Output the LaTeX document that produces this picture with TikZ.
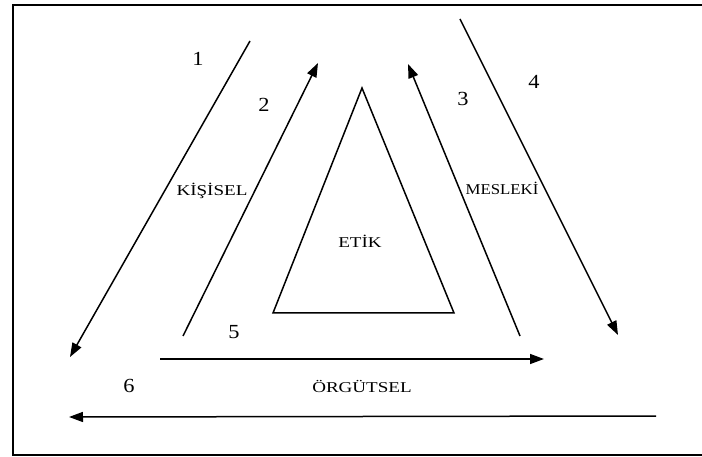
\documentclass[tikz,border=0pt]{standalone}
\usepackage{fontspec}
\usepackage{graphicx}
\setmainfont{Liberation Serif}
\usetikzlibrary{arrows.meta}
\tikzset{
  conn/.style={line width=1.5pt, -{Triangle[length=14pt,width=10pt]}},
  plain/.style={line width=1.5pt},
  num/.style={font=\fontsize{20}{20}\selectfont, inner sep=0pt},
  lbl/.style={font=\fontsize{15}{16}\selectfont, inner sep=1.5pt, anchor=base},
  cut/.style={lbl, fill=white},
}
\newcommand{\wide}[1]{\scalebox{1.27}[1]{#1}}
\begin{document}
\begin{tikzpicture}[x=1pt,y=-1pt]
\useasboundingbox (0,0) rectangle (702,457);
% frame (right edge cut off)
\draw[line width=1.6pt] (702,5) -- (13,5) -- (13,455) -- (702,455);
% endpoints
\coordinate (a1) at (250,41);  \coordinate (b1) at (70,357);
\coordinate (a2) at (183,336); \coordinate (b2) at (318,63);
\coordinate (a3) at (520,336); \coordinate (b3) at (408,64);
\coordinate (a4) at (460,19);  \coordinate (b4) at (618,335);
\coordinate (a5) at (160,359); \coordinate (b5) at (544,359);
\coordinate (a6) at (656,416); \coordinate (b6) at (69,417);
\coordinate (t1) at (362,88);  \coordinate (t2) at (273,313); \coordinate (t3) at (454,313);
% triangle
\draw[plain, line join=miter] (t1) -- (t2) -- (t3) -- cycle;
% connectors
\draw[conn] (a1) -- (b1);
\draw[conn] (a2) -- (b2);
\draw[conn] (a3) -- (b3);
\draw[conn] (a4) -- (b4);
\draw[conn] (a5) -- (b5);
\draw[conn] (a6) -- (b6);
% labels
\node[cut] (kisisel) at (212,196) {\wide{KİŞİSEL}};
\node[cut] (mesleki) at (502,195) {\scalebox{1.12}[1]{MESLEKİ}};
\node[lbl] (etik) at (360,248) {\wide{ETİK}};
\node[lbl] (orgutsel) at (362,392) {\wide{ÖRGÜTSEL}};
% numbers
\node[num] (n1) at (198,59) {\scalebox{1.12}[1]{1}};
\node[num] (n2) at (264,105) {\scalebox{1.12}[1]{2}};
\node[num] (n3) at (463,99) {\scalebox{1.12}[1]{3}};
\node[num] (n4) at (534,82) {\scalebox{1.12}[1]{4}};
\node[num] (n5) at (234,332) {\scalebox{1.12}[1]{5}};
\node[num] (n6) at (129,386) {\scalebox{1.12}[1]{6}};
\end{tikzpicture}
\end{document}
